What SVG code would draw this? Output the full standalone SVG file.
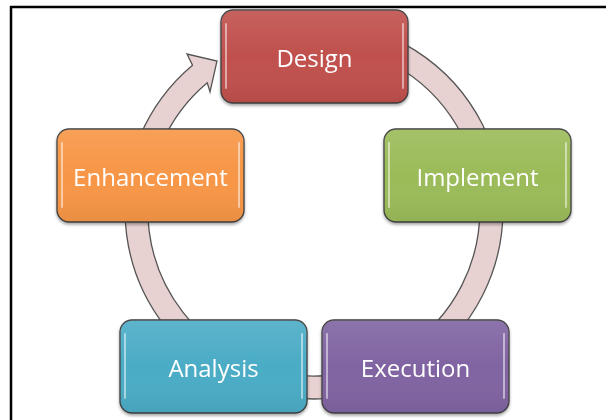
<svg xmlns="http://www.w3.org/2000/svg" width="606" height="420" viewBox="0 0 606 420">
<style>
.box{stroke:#3f3f3f;stroke-width:1.3}
.hl{fill:none;stroke:#ffffff;stroke-opacity:0.5;stroke-width:2;stroke-linecap:round}
.lbl{font-family:"Open Sans","Noto Sans","Liberation Sans",sans-serif;font-size:24px;fill:#ffffff;text-anchor:middle}
.ring{fill:#e8d1d1;stroke:#555555;stroke-width:1.3;stroke-linejoin:miter}
</style>
<defs>
<linearGradient id="gloss" x1="0" y1="0" x2="0" y2="1">
<stop offset="0" stop-color="#ffffff" stop-opacity="0.1"/>
<stop offset="0.5" stop-color="#ffffff" stop-opacity="0"/>
<stop offset="1" stop-color="#000000" stop-opacity="0.06"/>
</linearGradient>
<filter id="sh" x="-10%" y="-10%" width="120%" height="130%">
<feGaussianBlur in="SourceAlpha" stdDeviation="1.5"/>
<feOffset dx="0" dy="2" result="b"/>
<feComponentTransfer><feFuncA type="linear" slope="0.35"/></feComponentTransfer>
<feMerge><feMergeNode/><feMergeNode in="SourceGraphic"/></feMerge>
</filter>
</defs>
<rect width="606" height="420" fill="#ffffff"/>
<g id="frame">
<line x1="10" y1="7" x2="606" y2="7" stroke="#000" stroke-width="2.5"/>
<line x1="11" y1="6" x2="11" y2="420" stroke="#000" stroke-width="2.5"/>
</g>
<g id="connectors">
<path class="ring" d="M 234.1 38.7 A 189 189 0 1 1 192.5 65.2 L 187 54 L 217 61 L 210 92 L 207.3 82.8 A 166 166 0 1 0 243.8 59.6 Z"/>
</g>
<g id="design" filter="url(#sh)">
<rect class="box" x="221" y="10" width="187" height="93" rx="12" fill="#c0504d"/>
<rect x="221" y="10" width="187" height="93" rx="12" fill="url(#gloss)"/>
<path class="hl" d="M226 24 V88 M403 24 V88"/>
<text class="lbl" x="314.5" y="67">Design</text>
</g>
<g id="implement" filter="url(#sh)">
<rect class="box" x="384" y="129" width="187" height="93" rx="12" fill="#9bbb59"/>
<rect x="384" y="129" width="187" height="93" rx="12" fill="url(#gloss)"/>
<path class="hl" d="M389 143 V207 M566 143 V207"/>
<text class="lbl" x="477.5" y="186">Implement</text>
</g>
<g id="execution" filter="url(#sh)">
<rect class="box" x="322" y="320" width="187" height="93" rx="12" fill="#8064a2"/>
<rect x="322" y="320" width="187" height="93" rx="12" fill="url(#gloss)"/>
<path class="hl" d="M327 334 V398 M504 334 V398"/>
<text class="lbl" x="415.5" y="377">Execution</text>
</g>
<g id="analysis" filter="url(#sh)">
<rect class="box" x="120" y="320" width="187" height="93" rx="12" fill="#4bacc6"/>
<rect x="120" y="320" width="187" height="93" rx="12" fill="url(#gloss)"/>
<path class="hl" d="M125 334 V398 M302 334 V398"/>
<text class="lbl" x="213.5" y="377">Analysis</text>
</g>
<g id="enhancement" filter="url(#sh)">
<rect class="box" x="57" y="129" width="187" height="93" rx="12" fill="#f79646"/>
<rect x="57" y="129" width="187" height="93" rx="12" fill="url(#gloss)"/>
<path class="hl" d="M62 143 V207 M239 143 V207"/>
<text class="lbl" x="150.5" y="186">Enhancement</text>
</g>
</svg>
